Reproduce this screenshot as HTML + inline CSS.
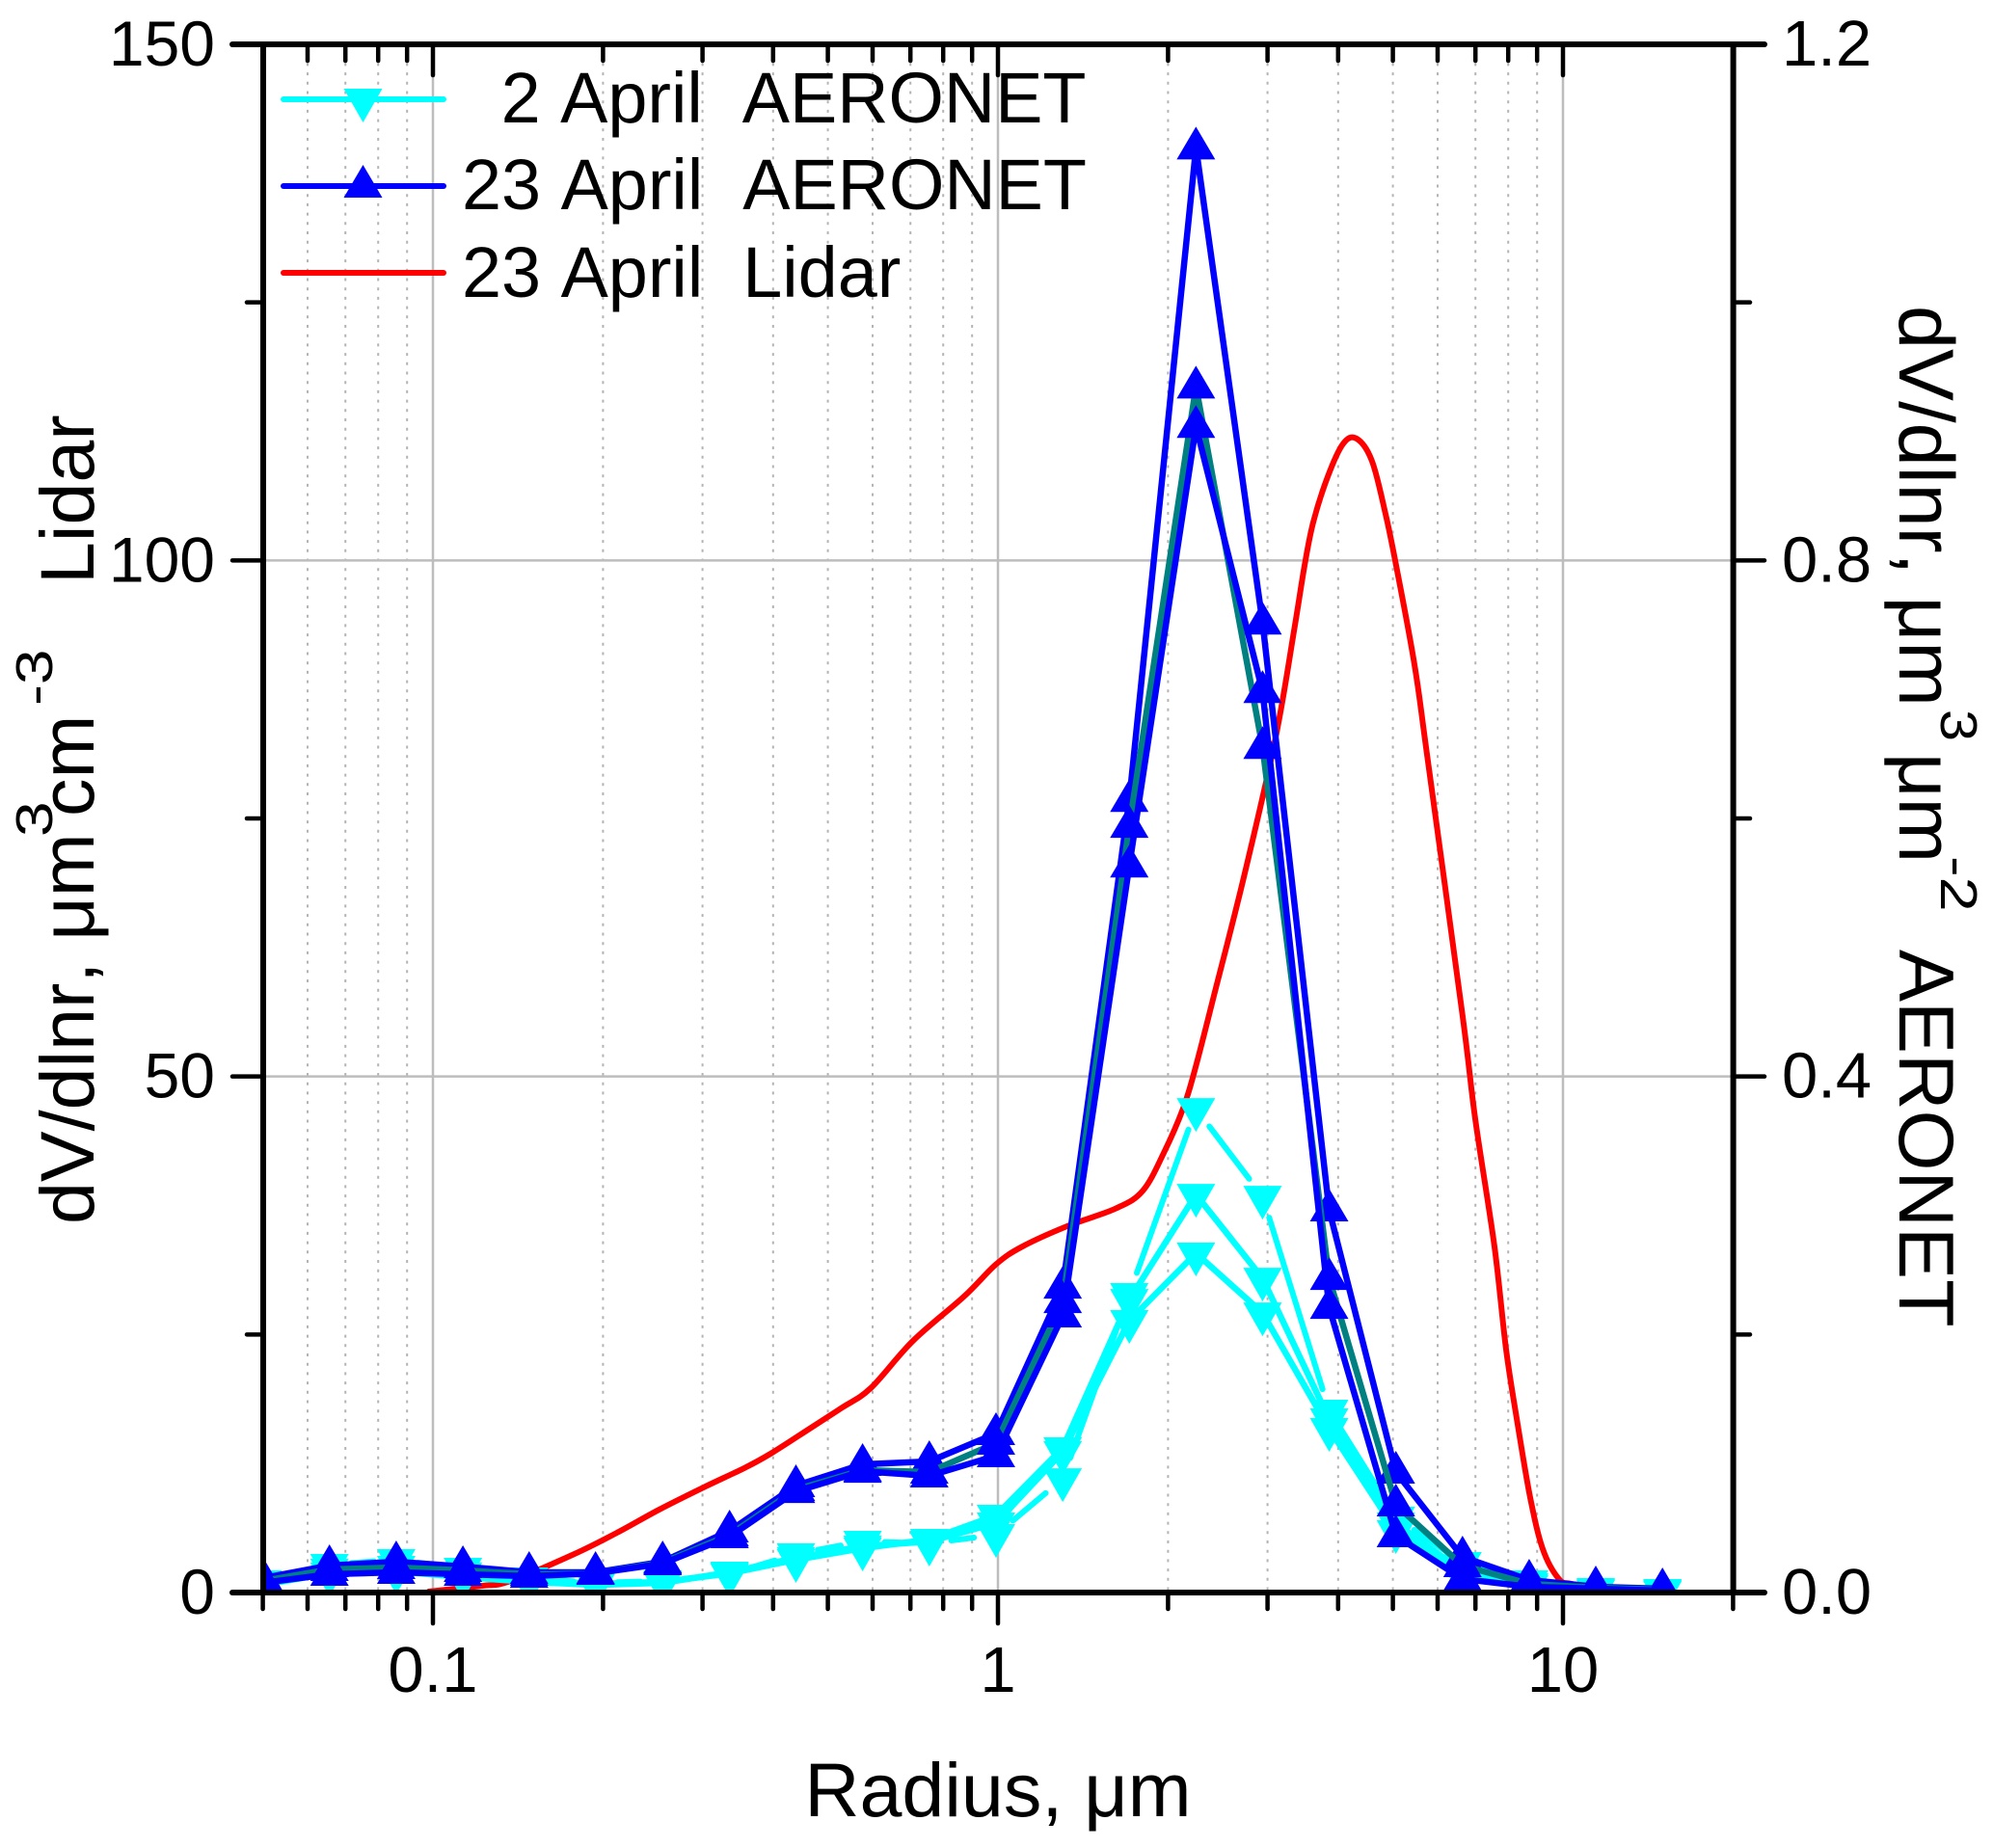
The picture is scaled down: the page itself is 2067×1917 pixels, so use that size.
<!DOCTYPE html>
<html lang="en">
<head>
<meta charset="utf-8">
<title>Volume size distribution: Lidar and AERONET</title>
<style>
html,body{margin:0;padding:0;background:#fff;}
svg{display:block;}
text{font-family:"Liberation Sans",Arial,sans-serif;fill:#000;white-space:pre;font-kerning:none;}
</style>
</head>
<body>
<svg id="chart" xmlns="http://www.w3.org/2000/svg" width="2067" height="1917" viewBox="0 0 2067 1917">
<defs><clipPath id="plot-clip"><rect x="273" y="46" width="1524.6" height="1606"/></clipPath></defs>
<rect x="0" y="0" width="2067" height="1917" fill="#fff"/>
<g id="grid"></g>
<g id="series" clip-path="url(#plot-clip)"></g>
<g id="axes"></g>

<g>
<text transform="translate(97 1270) rotate(-90)" font-size="79">dV/dlnr, μm</text>
<text transform="translate(54 868) rotate(-90) scale(1.22 1)" font-size="54">3</text>
<text transform="translate(97 847) rotate(-90)" font-size="79">cm</text>
<text transform="translate(54 732) rotate(-90) scale(1.22 1)" font-size="54">-3</text>
<text transform="translate(97 606) rotate(-90)" font-size="79">Lidar</text>
</g>

<g>
<text transform="translate(1970 317) rotate(90)" font-size="81">dV/dlnr, μm</text>
<text transform="translate(2013 736) rotate(90) scale(1.1 1)" font-size="54">3</text>
<text transform="translate(1970 781) rotate(90)" font-size="81">μm</text>
<text transform="translate(2013 888) rotate(90) scale(1.2 1)" font-size="54">-2</text>
<text transform="translate(1970 985) rotate(90)" font-size="81">AERONET</text>
</g>

<text x="1035" y="1884" font-size="79" text-anchor="middle">Radius, μm</text>

<g>
<g>
<line x1="294" x2="460" y1="103" y2="103" stroke="#00ffff" stroke-width="6" stroke-linecap="round"/>
<polygon points="356.500,92 396.500,92 376.500,127" fill="#00ffff"/>
<text x="519.600" y="127" font-size="73.8">2 April  AERONET</text>
</g>
<g>
<line x1="294" x2="460" y1="193" y2="193" stroke="#0000ff" stroke-width="6" stroke-linecap="round"/>
<polygon points="356.500,205 396.500,205 376.500,171" fill="#0000ff"/>
<text x="479" y="217" font-size="73.8">23 April  AERONET</text>
</g>
<g>
<line x1="294" x2="460" y1="283" y2="283" stroke="#ff0000" stroke-width="6" stroke-linecap="round"/>
<text x="479" y="308" font-size="73.8">23 April  Lidar</text>
</g>
</g>
</svg>

<script>
// AERONET radius bins (um)
const radiusBins = [0.05,0.0656,0.0861,0.113,0.148,0.194,0.255,0.335,0.439,0.576,0.756,0.992,1.302,1.708,2.241,2.94,3.857,5.061,6.641,8.713,11.43,15];

// 2 April AERONET retrievals (right axis, um3/um2)
const april2Gapped = [0.009,0.0217,0.0254,0.0187,0.0112,0.0075,0.009,0.0142,0.0299,0.0396,0.0381,0.0448,0.0881,0.2316,0.375,0.307,0.1412,0.0583,0.0232,0.009,0.003,0.0022];
const april2Mid = [0.0075,0.0179,0.0202,0.0149,0.0097,0.0067,0.0082,0.0149,0.0254,0.0344,0.0411,0.0598,0.1121,0.2271,0.3085,0.2435,0.1345,0.0538,0.0164,0.0067,0.0022,0.0015];
const april2Low = [0.006,0.0149,0.0164,0.012,0.0082,0.006,0.0075,0.0157,0.0269,0.0359,0.0396,0.0538,0.1091,0.2107,0.263,0.2166,0.127,0.0478,0.012,0.0052,0.0015,0.0007];

// 23 April AERONET retrievals (right axis, um3/um2)
const april23High = [0.0112,0.0209,0.0239,0.0202,0.0157,0.0157,0.0239,0.0478,0.0829,0.0994,0.1016,0.1233,0.2368,0.614,1.1198,0.7515,0.2966,0.0934,0.0276,0.0097,0.0045,0.003];
const april23Teal = [0.009,0.0179,0.0194,0.0172,0.0142,0.0149,0.0232,0.0448,0.0799,0.0949,0.0934,0.1158,0.2256,0.5939,0.9345,0.6551,0.2435,0.068,0.0209,0.0067,0.0037,0.0022];
const april23Low = [0.0075,0.0142,0.0157,0.0142,0.0127,0.0149,0.0224,0.0433,0.0784,0.0941,0.0904,0.1061,0.2144,0.5632,0.9039,0.6984,0.2211,0.0441,0.0105,0.0045,0.003,0.0015];

// 23 April Lidar (left axis, um3/cm3)
const lidarRadius = [0.0984,0.1222,0.137,0.1774,0.2118,0.2508,0.3017,0.3571,0.3972,0.4648,0.5291,0.5952,0.7076,0.8716,0.9922,1.103,1.327,1.615,1.803,1.966,2.126,2.238,2.421,2.724,3.1,3.342,3.489,3.614,3.833,4.082,4.314,4.594,4.853,5.068,5.461,5.746,6.645,6.993,7.565,7.933,8.315,8.75,9.21,9.84,10.36,11.66,13.4];
const lidarValues = [0.1,0.65,1.1,3.7,5.8,8.0,10.2,12.1,13.5,15.9,17.9,19.8,24.4,28.7,31.8,33.5,35.5,37.2,38.9,42.6,46.9,50.9,58.2,69.3,82.8,93.2,99.5,103.7,108.1,111.3,111.8,109.6,104.5,99.5,89.9,81.2,55.8,45.9,33.5,23.5,16.3,9.2,4.2,1.3,0.84,0.28,0];

// Axis tick values
const xMajorTicks = [0.1,1,10];
const xMajorLabels = ["0.1","1","10"];
const xMinorTicks = [0.05,0.06,0.07,0.08,0.09,0.2,0.3,0.4,0.5,0.6,0.7,0.8,0.9,2,3,4,5,6,7,8,9,20];
const xMinorGrid = [0.06,0.07,0.08,0.09,0.2,0.3,0.4,0.5,0.6,0.7,0.8,0.9,2,3,4,5,6,7,8,9];
const leftMajorTicks = [0,50,100,150];
const leftMajorLabels = ["0","50","100","150"];
const leftMinorTicks = [25,75,125];
const rightMajorTicks = [0,0.4,0.8,1.2];
const rightMajorLabels = ["0.0","0.4","0.8","1.2"];
const rightMinorTicks = [0.2,0.6,1.0];
const gridValues = [50,100];

const NS = 'http://www.w3.org/2000/svg';
const X0 = 1035, DECADE = 586;
const Y0 = 1652, YH = 1606;
function xAxis(r){ return X0 + DECADE * Math.log10(r); }
function yLeft(v){ return Y0 - v / 150 * YH; }
function yRight(v){ return Y0 - v / 1.2 * YH; }

function mk(parent, tag, attrs){
  const n = document.createElementNS(NS, tag);
  for (const k in attrs) n.setAttribute(k, attrs[k]);
  parent.appendChild(n);
  return n;
}
const gridG = document.getElementById('grid');
const seriesG = document.getElementById('series');
const axesG = document.getElementById('axes');

// grid
xMinorGrid.forEach(function(t){
  const el = mk(gridG, 'line', {x1:xAxis(t), x2:xAxis(t), y1:46, y2:1652, stroke:'#b4b4b4', 'stroke-width':2, 'stroke-dasharray':'3 6.7'});
  
  
});
xMajorTicks.forEach(function(t){
  const el = mk(gridG, 'line', {x1:xAxis(t), x2:xAxis(t), y1:46, y2:1652, stroke:'#bdbdbd', 'stroke-width':2.5});
  
  
});
gridValues.forEach(function(t){
  const el = mk(gridG, 'line', {x1:273, x2:1797.6, y1:yLeft(t), y2:yLeft(t), stroke:'#bdbdbd', 'stroke-width':2.5});
  
  
});

// series drawing
function drawLine(values, color, width, name, yFn, xs){
  const pts = values.map(function(v,i){ return xAxis(xs[i]).toFixed(1) + ',' + yFn(v).toFixed(1); }).join(' ');
  const el = mk(seriesG, 'polyline', {points:pts, fill:'none', stroke:color, 'stroke-width':width, 'stroke-linejoin':'round', 'stroke-linecap':'round'});
  
  
}
function drawSmoothLine(values, color, width, name, yFn, xs){
  const p = values.map(function(v,i){ return [xAxis(xs[i]), yFn(v)]; });
  let d = 'M' + p[0][0].toFixed(1) + ' ' + p[0][1].toFixed(1);
  for (let i = 0; i < p.length - 1; i++){
    const a = p[Math.max(i-1,0)], b = p[i], c = p[i+1], e = p[Math.min(i+2,p.length-1)];
    const c1x = b[0] + (c[0]-a[0])/6, c1y = b[1] + (c[1]-a[1])/6;
    const c2x = c[0] - (e[0]-b[0])/6, c2y = c[1] - (e[1]-b[1])/6;
    d += ' C' + c1x.toFixed(1) + ' ' + c1y.toFixed(1) + ' ' + c2x.toFixed(1) + ' ' + c2y.toFixed(1) + ' ' + c[0].toFixed(1) + ' ' + c[1].toFixed(1);
  }
  const el = mk(seriesG, 'path', {d:d, fill:'none', stroke:color, 'stroke-width':width, 'stroke-linejoin':'round', 'stroke-linecap':'round'});
  
  
}
function drawGappedLine(values, color, width, gap, name){
  for (let i = 0; i < values.length - 1; i++){
    const x1 = xAxis(radiusBins[i]), y1 = yRight(values[i]);
    const x2 = xAxis(radiusBins[i+1]), y2 = yRight(values[i+1]);
    const len = Math.hypot(x2-x1, y2-y1);
    if (len <= 2*gap) continue;
    const ux = (x2-x1)/len, uy = (y2-y1)/len;
    const el = mk(seriesG, 'line', {x1:x1+ux*gap, y1:y1+uy*gap, x2:x2-ux*gap, y2:y2-uy*gap, stroke:color, 'stroke-width':width, 'stroke-linecap':'round'});
    
    
  }
}
function drawDownMarkers(values, color, name){
  values.forEach(function(v,i){
    const x = xAxis(radiusBins[i]), y = yRight(v);
    const pts = (x-20)+','+(y-11)+' '+(x+20)+','+(y-11)+' '+x+','+(y+24);
    const el = mk(seriesG, 'polygon', {points:pts, fill:color});
    
    
  });
}
function drawUpMarkers(values, color, name){
  values.forEach(function(v,i){
    const x = xAxis(radiusBins[i]), y = yRight(v);
    const pts = (x-20)+','+(y+12)+' '+(x+20)+','+(y+12)+' '+x+','+(y-22);
    const el = mk(seriesG, 'polygon', {points:pts, fill:color});
    
    
  });
}

drawSmoothLine(lidarValues, '#ff0000', 6, 'lidar-23-april-line', yLeft, lidarRadius);

drawLine(april2Mid, '#00ffff', 6.5, 'aeronet-2-april-mid-line', yRight, radiusBins);
drawDownMarkers(april2Mid, '#00ffff', 'aeronet-2-april-mid-marker');
drawLine(april2Low, '#00ffff', 6.5, 'aeronet-2-april-low-line', yRight, radiusBins);
drawDownMarkers(april2Low, '#00ffff', 'aeronet-2-april-low-marker');
drawGappedLine(april2Gapped, '#00ffff', 6, 23, 'aeronet-2-april-peak-segment');
drawDownMarkers(april2Gapped, '#00ffff', 'aeronet-2-april-peak-marker');

drawLine(april23High, '#0000ff', 6.5, 'aeronet-23-april-high-line', yRight, radiusBins);
drawUpMarkers(april23High, '#0000ff', 'aeronet-23-april-high-marker');
drawLine(april23Teal, '#008080', 6.5, 'aeronet-23-april-teal-line', yRight, radiusBins);
drawUpMarkers(april23Teal, '#0000ff', 'aeronet-23-april-teal-marker');
drawLine(april23Low, '#0000ff', 6.5, 'aeronet-23-april-low-line', yRight, radiusBins);
drawUpMarkers(april23Low, '#0000ff', 'aeronet-23-april-low-marker');

// axes frame
const frameSpecs = [
  [241,1652,1830,1652,'bottom-axis-line'],
  [241,46,1830,46,'top-axis-line'],
  [273,46,273,1652,'left-axis-line'],
  [1797.6,46,1797.6,1652,'right-axis-line']
];
frameSpecs.forEach(function(s){
  const el = mk(axesG, 'line', {x1:s[0], y1:s[1], x2:s[2], y2:s[3], stroke:'#000', 'stroke-width':6, 'stroke-linecap':'round'});
  
  
});

function drawTick(x1,y1,x2,y2,name){
  const el = mk(axesG, 'line', {x1:x1, y1:y1, x2:x2, y2:y2, stroke:'#000', 'stroke-width':4.5, 'stroke-linecap':'round'});
  
  
}
xMajorTicks.forEach(function(t){
  drawTick(xAxis(t),1652,xAxis(t),1684,'x-major-tick');
  drawTick(xAxis(t),46,xAxis(t),78,'top-major-tick');
});
xMinorTicks.forEach(function(t){
  drawTick(xAxis(t),1652,xAxis(t),1669,'x-minor-tick');
  drawTick(xAxis(t),46,xAxis(t),63,'top-minor-tick');
});
leftMinorTicks.forEach(function(t){
  drawTick(256,yLeft(t),273,yLeft(t),'left-minor-tick');
});
rightMinorTicks.forEach(function(t){
  drawTick(1797.6,yRight(t),1815,yRight(t),'right-minor-tick');
});
leftMajorTicks.forEach(function(t){
  drawTick(241,yLeft(t),273,yLeft(t),'left-major-tick');
});
rightMajorTicks.forEach(function(t){
  drawTick(1797.6,yRight(t),1830,yRight(t),'right-major-tick');
});

// tick labels
xMajorTicks.forEach(function(t,i){
  const el = mk(axesG, 'text', {x:xAxis(t), y:1755, 'font-size':67, 'text-anchor':'middle'});
  el.textContent = xMajorLabels[i];
  
  
});
leftMajorTicks.forEach(function(t,i){
  const el = mk(axesG, 'text', {x:223, y:yLeft(t)+22, 'font-size':66, 'text-anchor':'end'});
  el.textContent = leftMajorLabels[i];
  
  
});
rightMajorTicks.forEach(function(t,i){
  const el = mk(axesG, 'text', {x:1848, y:yRight(t)+22, 'font-size':67, 'text-anchor':'start'});
  el.textContent = rightMajorLabels[i];
  
  
});
</script>
</body>
</html>
